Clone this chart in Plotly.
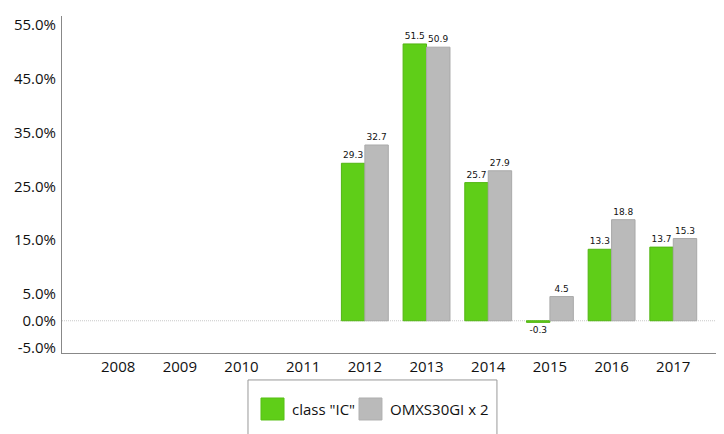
import plotly.graph_objects as go

years = ["2008", "2009", "2010", "2011", "2012", "2013", "2014", "2015", "2016", "2017"]
class_ic = [None, None, None, None, 29.3, 51.5, 25.7, -0.3, 13.3, 13.7]
omxs30 = [None, None, None, None, 32.7, 50.9, 27.9, 4.5, 18.8, 15.3]
series_names = ['class "IC"', "OMXS30GI x 2"]
tick_vals = [-5, 0, 5, 15, 25, 35, 45, 55]
tick_text = ["-5.0%", "0.0%", "5.0%", "15.0%", "25.0%", "35.0%", "45.0%", "55.0%"]

GREEN = "#5fce18"
GREY = "#bababa"

def labels(vals):
    return ["" if v is None else f"{v:.1f}" for v in vals]

fig = go.Figure()
fig.add_trace(go.Bar(
    x=years, y=class_ic, name=series_names[0],
    marker=dict(color=GREEN, line=dict(color="#52b512", width=1)),
    text=labels(class_ic), textposition="outside", cliponaxis=False,
    textfont=dict(family="DejaVu Sans", size=9, color="#111"),
    showlegend=False,
))
fig.add_trace(go.Bar(
    x=years, y=omxs30, name=series_names[1],
    marker=dict(color=GREY, line=dict(color="#a9a9a9", width=1)),
    text=labels(omxs30), textposition="outside", cliponaxis=False,
    textfont=dict(family="DejaVu Sans", size=9, color="#111"),
    showlegend=False,
))

shapes = [
    dict(type="line", xref="paper", yref="y", x0=0, x1=1, y0=0, y1=0,
         line=dict(color="#c8c8c8", width=1, dash="1px,1px"), layer="below"),
    # legend box
    dict(type="rect", xref="paper", yref="paper", x0=0.2818, x1=0.659, y0=-0.080, y1=-0.35,
         line=dict(color="#999999", width=1), fillcolor="rgba(0,0,0,0)"),
    dict(type="rect", xref="paper", yref="paper", x0=0.3015, x1=0.3364, y0=-0.1335, y1=-0.1988,
         line=dict(color="#58c015", width=1), fillcolor=GREEN),
    dict(type="rect", xref="paper", yref="paper", x0=0.450, x1=0.4848, y0=-0.1335, y1=-0.1988,
         line=dict(color="#b0b0b0", width=1), fillcolor=GREY),
]
annotations = [
    dict(xref="paper", yref="paper", x=0.3455, y=-0.166, text=series_names[0], showarrow=False,
         xanchor="left", yanchor="middle", font=dict(family="Open Sans", size=15, color="#111")),
    dict(xref="paper", yref="paper", x=0.4939, y=-0.166, text=series_names[1], showarrow=False,
         xanchor="left", yanchor="middle", font=dict(family="Open Sans", size=15, color="#111")),
]

fig.update_layout(
    width=716, height=426,
    margin=dict(l=54, r=2, t=8, b=81, autoexpand=False),
    paper_bgcolor="white", plot_bgcolor="white",
    barmode="group", bargap=0.24, bargroupgap=0,
    shapes=shapes, annotations=annotations,
    font=dict(family="Open Sans", size=15, color="#111"),
    xaxis=dict(type="category", range=[-0.91, 9.79], showline=True, linecolor="#888888",
               linewidth=1, ticks="", showgrid=False, zeroline=False, automargin=False,
               tickfont=dict(family="Open Sans", size=15, color="#111")),
    yaxis=dict(range=[-6.0, 56.7], tickvals=tick_vals, ticktext=tick_text, showline=True,
               linecolor="#888888", linewidth=1, ticks="", showgrid=False, zeroline=False,
               automargin=False, ticklabelstandoff=2,
               tickfont=dict(family="Open Sans", size=15, color="#111")),
)

fig.write_html("out.html")
